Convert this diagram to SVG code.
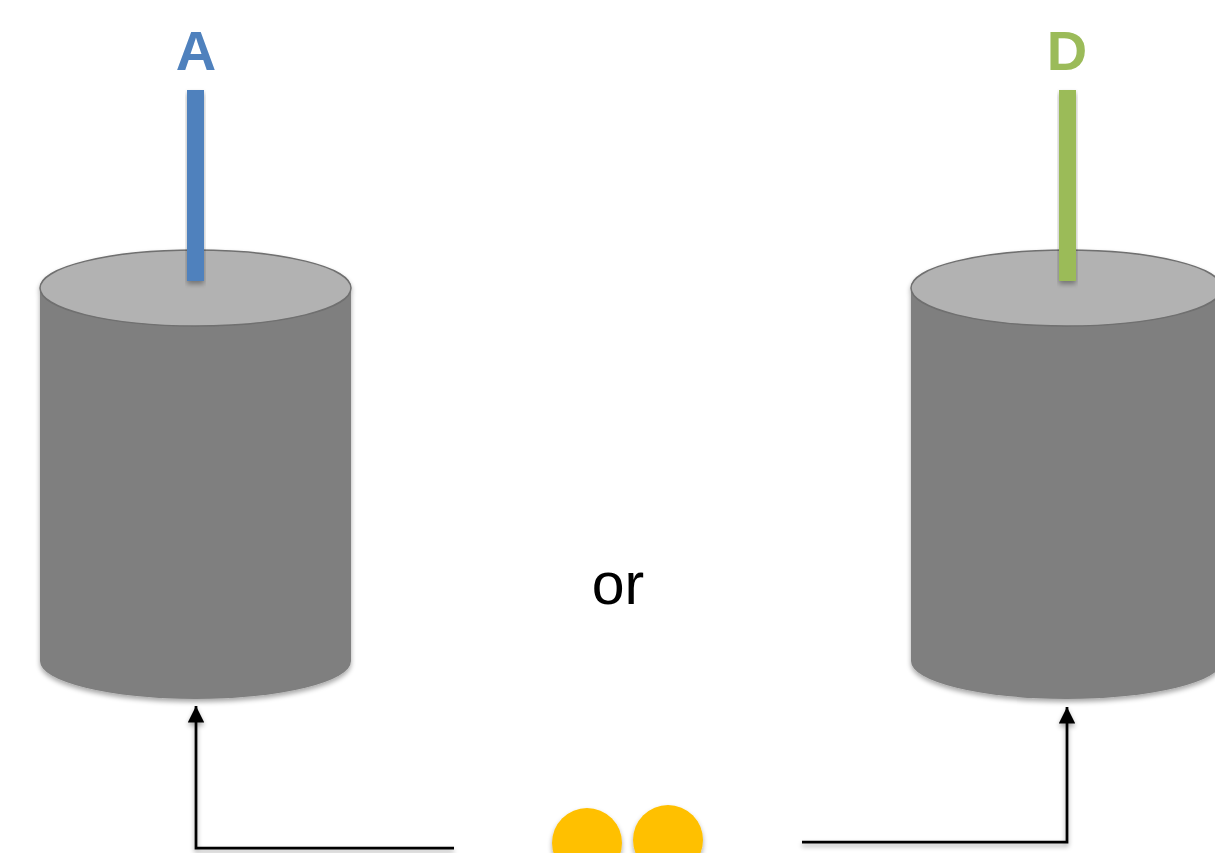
<svg xmlns="http://www.w3.org/2000/svg" width="1215" height="853" viewBox="0 0 1215 853">
<style>
.body{fill:#7f7f7f}
.top{fill:#b2b2b2;stroke:#6f6f6f;stroke-width:1.5}
.lbl{font-family:"Liberation Sans",Arial,sans-serif;font-weight:bold;font-size:56px;text-anchor:middle}
.conn{fill:none;stroke:#000;stroke-width:2.75}
.dot{fill:#ffc000}
</style>
<defs>
<filter id="sh" x="-10%" y="-10%" width="120%" height="130%">
<feGaussianBlur in="SourceAlpha" stdDeviation="2.5"/>
<feOffset dx="0" dy="3" result="b"/>
<feComponentTransfer><feFuncA type="linear" slope="0.35"/></feComponentTransfer>
<feMerge><feMergeNode/><feMergeNode in="SourceGraphic"/></feMerge>
</filter>
<marker id="arr" viewBox="0 0 10 10" refX="10" refY="5" markerWidth="6" markerHeight="6" markerUnits="strokeWidth" orient="auto">
<path d="M0,0 L10,5 L0,10 Z" fill="#000"/>
</marker>
</defs>
<g id="cylinderA" filter="url(#sh)">
<path class="body" d="M40,288 L40,661 A155.5,38 0 0 0 351,661 L351,288 Z"/>
<ellipse class="top" cx="195.5" cy="288" rx="155.5" ry="38"/>
</g>
<g id="rodA" filter="url(#sh)">
<rect x="187" y="90" width="17" height="191" fill="#4f81bd"/>
</g>
<text id="labelA" class="lbl" x="196" y="70" fill="#4f81bd">A</text>
<g id="cylinderD" filter="url(#sh)">
<path class="body" d="M911,288 L911,661 A155.5,38 0 0 0 1222,661 L1222,288 Z"/>
<ellipse class="top" cx="1066.5" cy="288" rx="155.5" ry="38"/>
</g>
<g id="rodD" filter="url(#sh)">
<rect x="1059" y="90" width="17" height="191" fill="#9bbb59"/>
</g>
<text id="labelD" class="lbl" x="1067" y="70" fill="#9bbb59">D</text>
<text id="or" x="618" y="604" font-family="'Liberation Sans',Arial,sans-serif" font-size="59" text-anchor="middle" fill="#000">or</text>
<g id="dots" filter="url(#sh)">
<circle class="dot" cx="587" cy="843" r="35"/>
<circle class="dot" cx="668" cy="840" r="35"/>
</g>
<g id="connectors" filter="url(#sh)">
<path class="conn" d="M454,848 L196,848 L196,706" marker-end="url(#arr)"/>
<path class="conn" d="M802,842 L1067,842 L1067,707" marker-end="url(#arr)"/>
</g>
</svg>
